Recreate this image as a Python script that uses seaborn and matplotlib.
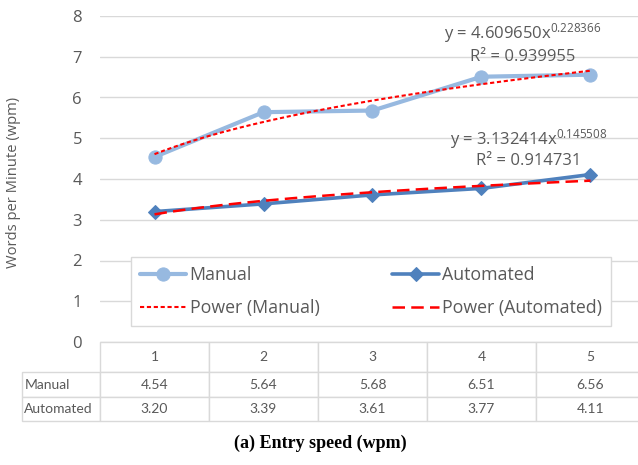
import numpy as np
import pandas as pd
import matplotlib
matplotlib.use("Agg")
import matplotlib.pyplot as plt
import seaborn as sns

# ---- data ----
sessions = [1, 2, 3, 4, 5]
manual = [4.54, 5.64, 5.68, 6.51, 6.56]
automated = [3.20, 3.39, 3.61, 3.77, 4.11]
series_names = ["Manual", "Automated"]
y_ticks = [0, 1, 2, 3, 4, 5, 6, 7, 8]
# power trendline coefficients as printed on the chart: y = a * x^b
trend_a = [4.609650, 3.132414]
trend_b = [0.228366, 0.145508]
trend_r2 = [0.939955, 0.914731]

sns.set_style("white")
plt.rcParams["font.family"] = ["Open Sans", "DejaVu Sans"]
plt.rcParams["mathtext.fontset"] = "custom"
plt.rcParams["mathtext.rm"] = "Open Sans"
plt.rcParams["mathtext.it"] = "Open Sans"

GRAY = "#595959"
GRID = "#D9D9D9"
C_MAN = "#97B9E0"
C_AUT = "#4F81BD"
RED = "#FF0000"

W, H = 638, 465
fig = plt.figure(figsize=(W / 100, H / 100), dpi=100)
ax = fig.add_axes([100 / W, (H - 342) / H, 545 / W, 326 / H])

df = pd.DataFrame({"x": sessions, "Manual": manual, "Automated": automated})
xs = np.linspace(min(sessions), max(sessions), 200)

sns.lineplot(x=df["x"], y=df["Manual"], ax=ax, color=C_MAN, linewidth=3,
             marker="o", markersize=9.5, markeredgecolor=C_MAN, label="Manual", zorder=3)
sns.lineplot(x=df["x"], y=df["Automated"], ax=ax, color=C_AUT, linewidth=2.6,
             marker="D", markersize=7, markeredgecolor=C_AUT, label="Automated", zorder=3)

sns.lineplot(x=xs, y=trend_a[0] * xs ** trend_b[0], ax=ax, color=RED, linewidth=1.5,
             label="Power (Manual)", zorder=4)
ax.lines[-1].set_linestyle((0, (2, 1.3)))
sns.lineplot(x=xs, y=trend_a[1] * xs ** trend_b[1], ax=ax, color=RED, linewidth=1.8,
             label="Power (Automated)", zorder=4)
ax.lines[-1].set_linestyle((0, (5, 2.5)))

ax.set_xlim(0.5, 5.5)
ax.set_ylim(0, 8)
ax.set_yticks(y_ticks)
ax.set_xticks([])
ax.yaxis.grid(True, color=GRID, linewidth=1)
ax.set_axisbelow(True)
for s in ax.spines.values():
    s.set_visible(False)
ax.tick_params(axis="y", length=0, pad=13, labelsize=12, labelcolor=GRAY)
ax.set_xlabel("")
ax.set_ylabel("Words per Minute (wpm)", fontsize=10.6, color=GRAY)
ax.yaxis.set_label_coords(-0.145, 0.488)

# equations
for i, (tx, ty1, ty2) in enumerate([(4.38, 7.58, 6.99), (4.43, 4.98, 4.45)]):
    ax.text(tx, ty1, f"y = {trend_a[i]:.6f}x$^{{{trend_b[i]:.6f}}}$", ha="center",
            va="center", fontsize=12, color=GRAY)
    ax.text(tx, ty2, f"R² = {trend_r2[i]:.6f}", ha="center", va="center",
            fontsize=12, color=GRAY)

# legend
h, l = ax.get_legend_handles_labels()
order = [0, 2, 1, 3]
leg = ax.legend([h[i] for i in order], [l[i] for i in order], ncol=2,
                loc="upper left", bbox_to_anchor=(131 / W, 1 - 257 / H),
                bbox_transform=fig.transFigure, borderaxespad=0,
                fontsize=12.8, frameon=True, fancybox=False, edgecolor=GRID,
                framealpha=1, handlelength=2.6, handletextpad=0.2,
                columnspacing=4.1, labelspacing=0.85, borderpad=0.5)
leg.get_frame().set_linewidth(1)
for t in leg.get_texts():
    t.set_color(GRAY)

# data table (first column holds the row labels)
rows = [[""] + [str(s) for s in sessions],
        [series_names[0]] + [f"{v:.2f}" for v in manual],
        [series_names[1]] + [f"{v:.2f}" for v in automated]]
x0 = (22 - 100) / 545
tbl = ax.table(cellText=rows, cellLoc="center",
               bbox=[x0, -(421 - 342) / 326, 1 - x0, (421 - 342) / 326])
tbl.auto_set_font_size(False)
heights = {0: 30, 1: 25, 2: 24}
for (r, c), cell in tbl.get_celld().items():
    cell.set_edgecolor(GRID)
    cell.set_linewidth(1)
    cell.set_height(heights[r])
    cell.set_width(78 if c == 0 else 109)
    txt = cell.get_text()
    txt.set_fontsize(10)
    txt.set_color(GRAY)
    txt.set_fontfamily("Lato")
    if c == 0:
        cell.PAD = 0.03
        txt.set_horizontalalignment("left")
        cell._loc = "left"
        if r == 0:
            cell.visible_edges = ""

fig.text(320 / W, 1 - 443 / H, "(a) Entry speed (wpm)", ha="center", va="center",
         fontsize=13, fontweight="bold", family="Liberation Serif", color="black")

fig.savefig("out.png", dpi=100)
